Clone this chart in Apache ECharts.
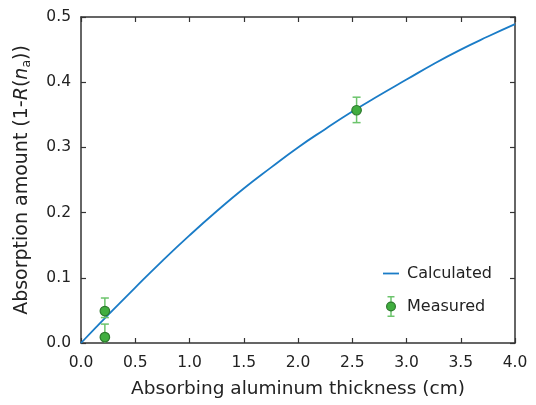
<!DOCTYPE html>
<html>
<head>
<meta charset="utf-8">
<script src="https://cdn.jsdelivr.net/npm/echarts@6/dist/echarts.min.js"></script>
<style>
  html, body { margin: 0; padding: 0; background: #fff; }
  #chart { width: 536px; height: 405px; }
</style>
</head>
<body>
<div id="chart"></div>
<script>
// calculated curve
var calcX = [0, 0.25, 0.5, 0.75, 1.0, 1.25, 1.5, 1.75, 2.0, 2.25, 2.5, 2.75, 3.0, 3.25, 3.5, 3.75, 4.0];
var calcY = [0, 0.043, 0.085, 0.126, 0.165, 0.202, 0.237, 0.269, 0.300, 0.328, 0.355, 0.380, 0.404, 0.428, 0.450, 0.470, 0.489];

// measured points with error bars
var measX = [0.22, 0.22, 2.54];
var measY = [0.049, 0.009, 0.357];
var measLow = [0.039, -0.011, 0.338];
var measHigh = [0.069, 0.029, 0.377];

var font = "DejaVu Sans";
var ink = "#222";
var axisColor = "#333";
var lineColor = "#1a7cc7";
var dotColor = "#40ae3f";
var dotBorder = "#2d7a2d";
var barColor = "#6cc46c";

var calcData = [];
for (var i = 0; i < calcX.length; i++) calcData.push([calcX[i], calcY[i]]);
var measData = [];
var errData = [];
for (var j = 0; j < measX.length; j++) {
  measData.push([measX[j], measY[j]]);
  errData.push([measX[j], measLow[j], measHigh[j]]);
}

// legend icons
function svgIcon(body) {
  var s = "<svg xmlns='http://www.w3.org/2000/svg' width='16' height='21'>" + body + "</svg>";
  return "image://data:image/svg+xml;charset=utf-8," + encodeURIComponent(s);
}
var lineIcon = svgIcon("<line x1='0' y1='10.5' x2='16' y2='10.5' stroke='" + lineColor + "' stroke-width='1.8'/>");
var measIcon = svgIcon(
  "<g stroke='" + barColor + "' stroke-width='1.5'>" +
  "<line x1='8' y1='0.75' x2='8' y2='20.25'/>" +
  "<line x1='4.5' y1='0.75' x2='11.5' y2='0.75'/>" +
  "<line x1='4.5' y1='20.25' x2='11.5' y2='20.25'/></g>" +
  "<circle cx='8' cy='10.5' r='4.4' fill='" + dotColor + "' stroke='" + dotBorder + "' stroke-width='1.2'/>"
);

var myChart = echarts.init(document.getElementById("chart"));

function fmt(v) { return v.toFixed(1); }

var baseAxisLine = { show: true, onZero: false, lineStyle: { color: axisColor, width: 1.5 } };
var baseTick = { show: true, inside: true, length: 5, lineStyle: { color: axisColor, width: 1.2 } };

var option = {
  animation: false,
  backgroundColor: "#fff",
  grid: { left: 81, right: 21, top: 17, bottom: 62 },
  legend: {
    orient: "vertical",
    left: 383,
    top: 263,
    padding: 0,
    itemWidth: 16,
    itemHeight: 21,
    itemGap: 12,
    textStyle: { fontFamily: font, fontSize: 16, color: ink, padding: [0, 0, 0, 3] },
    data: [{ name: "Calculated", icon: lineIcon }, { name: "Measured", icon: measIcon }]
  },
  xAxis: [
    {
      type: "value",
      min: 0, max: 4, interval: 0.5,
      name: "Absorbing aluminum thickness (cm)",
      nameLocation: "middle",
      nameGap: 37,
      nameTextStyle: { fontFamily: font, fontSize: 18.5, color: ink },
      axisLine: baseAxisLine,
      axisTick: baseTick,
      splitLine: { show: false },
      axisLabel: { formatter: fmt, fontFamily: font, fontSize: 15.5, color: ink, margin: 12 }
    },
    {
      type: "value", position: "top",
      min: 0, max: 4, interval: 0.5,
      axisLine: baseAxisLine,
      axisTick: baseTick,
      splitLine: { show: false },
      axisLabel: { show: false }
    }
  ],
  yAxis: [
    {
      type: "value",
      min: 0, max: 0.5, interval: 0.1,
      name: "Absorption amount (1-{i|R}({i|n}{sub|a}))",
      nameLocation: "middle",
      nameRotate: 90,
      nameGap: 48,
      nameTextStyle: {
        fontFamily: font, fontSize: 19, color: ink, lineHeight: 22,
        rich: {
          i: { fontFamily: font, fontStyle: "italic", fontSize: 19, color: ink, lineHeight: 22 },
          sub: { fontFamily: font, fontSize: 12.5, color: ink, lineHeight: 12, verticalAlign: "bottom" }
        }
      },
      axisLine: baseAxisLine,
      axisTick: baseTick,
      splitLine: { show: false },
      axisLabel: { formatter: fmt, fontFamily: font, fontSize: 15.5, color: ink, margin: 10 }
    },
    {
      type: "value", position: "right",
      min: 0, max: 0.5, interval: 0.1,
      axisLine: baseAxisLine,
      axisTick: baseTick,
      splitLine: { show: false },
      axisLabel: { show: false }
    }
  ],
  series: [
    {
      name: "Calculated",
      type: "line",
      data: calcData,
      smooth: true,
      symbol: "none",
      lineStyle: { color: lineColor, width: 1.8 },
      itemStyle: { color: lineColor },
      z: 2
    },
    {
      name: "Measured",
      type: "custom",
      data: errData,
      clip: true,
      encode: { x: 0, y: [1, 2] },
      renderItem: function (params, api) {
        var x = api.value(0);
        var top = api.coord([x, api.value(2)]);
        var bot = api.coord([x, api.value(1)]);
        var hw = 4;
        var st = { stroke: barColor, lineWidth: 1.5 };
        return {
          type: "group",
          children: [
            { type: "line", shape: { x1: top[0], y1: top[1], x2: bot[0], y2: bot[1] }, style: st },
            { type: "line", shape: { x1: top[0] - hw, y1: top[1], x2: top[0] + hw, y2: top[1] }, style: st },
            { type: "line", shape: { x1: bot[0] - hw, y1: bot[1], x2: bot[0] + hw, y2: bot[1] }, style: st }
          ]
        };
      },
      z: 3
    },
    {
      name: "Measured",
      type: "scatter",
      data: measData,
      symbol: "circle",
      symbolSize: 9.5,
      itemStyle: { color: dotColor, borderColor: dotBorder, borderWidth: 1.2, opacity: 1 },
      z: 4
    }
  ]
};

myChart.setOption(option);
</script>
</body>
</html>
